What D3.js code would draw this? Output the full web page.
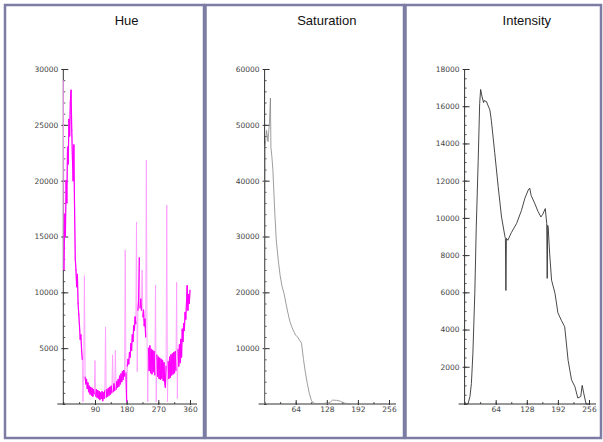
<!DOCTYPE html>
<html>
<head>
<meta charset="utf-8">
<script src="https://cdn.jsdelivr.net/npm/d3@7"></script>
<style>
body { margin: 0; background: #fff; }
</style>
</head>
<body>
<div id="chart"></div>
<script>
// set the dimensions of the picture
var W = 603, H = 442;

// Hue histogram, one count every 2 degrees from 0 to 360
var hueStep = 2;
var hueCounts = [
  29000, 12000, 17000, 15000, 20000, 18000, 23000, 21500, 25500, 24000,
  27000, 28100, 24500, 22000, 20000, 23200, 17500, 13000, 12000, 10500,
  11600, 9000, 8000, 7000, 5800, 6200, 4800, 4000, 200, 3000,
  11500, 2400, 1800, 2200, 1400, 1900, 1100, 1600, 900, 1500,
  800, 1400, 700, 1300, 900, 3900, 700, 1300, 600, 1200,
  500, 1100, 400, 1000, 500, 1100, 300, 1000, 500, 1200,
  6900, 600, 1300, 700, 1400, 800, 1500, 900, 1600, 1000,
  4400, 1100, 1800, 1200, 4800, 1300, 2000, 1500, 2200, 1600,
  2500, 1800, 2700, 2000, 2900, 2200, 3000, 2500, 13800, 2800,
  200, 3400, 4000, 3600, 4600, 4200, 5400, 4800, 6200, 5600,
  7000, 6600, 7800, 7200, 16300, 2900, 8400, 9200, 13100, 8600,
  9400, 8400, 12000, 7800, 8400, 7000, 7600, 6000, 21850, 5400,
  200, 5000, 3000, 5200, 2800, 4900, 2700, 4800, 2900, 4700,
  2600, 10650, 200, 4400, 2500, 4200, 2300, 4100, 2200, 4000,
  2300, 3900, 2100, 3700, 2000, 1500, 3400, 17800, 200, 3800,
  2300, 4200, 2400, 4400, 2600, 4500, 2700, 4600, 2800, 4700,
  3000, 10900, 500, 4900, 3400, 5300, 3700, 5800, 4200, 6700,
  5600, 7200, 6600, 8200, 7600, 9000, 10600, 8400, 9800, 9000,
  10200
];
var hueBins = hueCounts.map(function(d, i) { return i * hueStep; });

// Saturation histogram
var satBins = [0, 1, 4, 7, 10, 12, 13, 15, 17, 21, 24, 28, 32, 36, 40, 44, 48, 52,
  56, 60, 64, 68, 72, 76, 80, 84, 88, 92, 96, 100, 104, 110, 120, 130, 136, 140, 148, 156,
  162, 170, 178];
var satCounts = [0, 46000, 49000, 47000, 50500, 54800, 46000, 44300, 42000, 34200, 29400, 25800, 23000, 21000, 19800, 18000, 16300, 14800,
  13800, 13000, 12300, 12000, 11400, 10900, 8000, 5600, 3600, 1900, 700, 200, 100, 50, 100, 150, 400, 700, 650, 500,
  200, 80, 0];

// Intensity histogram
var intBins = [0, 7, 11, 14, 17, 21, 24, 28, 31, 33, 36, 39, 40, 45, 48, 52, 55, 62, 69, 76,
  83, 84, 85, 86, 89, 96, 107, 117, 124, 131, 134, 137, 144, 151, 157, 161, 166, 169, 170, 171,
  172, 175, 179, 186, 192, 199, 206, 213, 220, 227, 233, 239, 242, 245, 250, 256];
var intCounts = [0, 0, 400, 1100, 2700, 5950, 9500, 13100, 16150, 16900, 16500, 16200, 16300, 16250, 16050, 15800, 15250, 13500, 11700, 10050,
  9000, 8900, 6100, 8900, 8800, 9200, 9700, 10400, 11050, 11500, 11600, 11200, 10800, 10350, 10050, 10200, 10500, 9700, 6750, 9600,
  9500, 8100, 6650, 5950, 4900, 4500, 4150, 2350, 1300, 930, 320, 400, 1000, 600, 0, 0];

// tick labels
var hueTicks = [90, 180, 270, 360];
var byteTicks = [64, 128, 192, 256];

var panels = [
  {title: "Hue", left: 5, right: 204, px0: 63.3, px1: 190,
   bins: hueBins, counts: hueCounts, xMax: 360, xTicks: hueTicks, xMinorStep: 45,
   yMax: 30000, yStep: 5000, yMinorStep: 1000, color: "#ff00ff", spike: "#ff9cff", width: 1.2},
  {title: "Saturation", left: 205.5, right: 404, px0: 264.6, px1: 389,
   bins: satBins, counts: satCounts, xMax: 256, xTicks: byteTicks, xMinorStep: 32,
   yMax: 60000, yStep: 10000, yMinorStep: 2000, color: "#858585", width: 0.8},
  {title: "Intensity", left: 405.5, right: 601, px0: 464.6, px1: 589,
   bins: intBins, counts: intCounts, xMax: 256, xTicks: byteTicks, xMinorStep: 32,
   yMax: 18000, yStep: 2000, yMinorStep: 500, color: "#333333", width: 0.9}
];

var plotTop = 69, plotBottom = 404;

var svg = d3.select("#chart")
  .append("svg")
    .attr("width", W)
    .attr("height", H);

panels.forEach(function(p) {

  // panel frame
  svg.append("rect")
    .attr("x", p.left).attr("y", 5)
    .attr("width", p.right - p.left).attr("height", 433)
    .attr("fill", "#fff")
    .attr("stroke", "#7c7ca4")
    .attr("stroke-width", 2.5);

  var x = d3.scaleLinear().domain([0, p.xMax]).range([p.px0, p.px1]);
  var y = d3.scaleLinear().domain([0, p.yMax]).range([plotBottom, plotTop]);

  // title
  svg.append("text")
    .attr("x", (p.px0 + p.px1) / 2)
    .attr("y", 25)
    .attr("text-anchor", "middle")
    .style("font-family", "'Liberation Sans', Arial, sans-serif")
    .style("font-size", "13px")
    .style("fill", "#111")
    .text(p.title);

  // minor ticks
  var yMinor = d3.range(0, p.yMax + 1, p.yMinorStep);
  var xMinor = d3.range(0, p.xMax + 1, p.xMinorStep);
  var yMajor = d3.range(p.yStep, p.yMax + 1, p.yStep);

  svg.append("g")
    .attr("transform", "translate(" + x(0) + ",0)")
    .call(d3.axisLeft(y).tickValues(yMinor).tickSize(-2).tickFormat("").tickSizeOuter(0))
    .call(function(g) { g.select(".domain").remove(); })
    .selectAll("line").attr("stroke", "#555");

  svg.append("g")
    .attr("transform", "translate(0," + plotBottom + ")")
    .call(d3.axisBottom(x).tickValues(xMinor).tickSize(-2).tickFormat("").tickSizeOuter(0))
    .call(function(g) { g.select(".domain").remove(); })
    .selectAll("line").attr("stroke", "#555");

  // Y axis
  var ya = svg.append("g")
    .attr("transform", "translate(" + x(0) + ",0)")
    .call(d3.axisLeft(y).tickValues(yMajor).tickFormat(d3.format("d"))
      .tickSize(-5).tickPadding(5).tickSizeOuter(0));
  ya.select(".domain").remove();
  ya.selectAll("line").attr("stroke", "#333").attr("x1", -2);
  ya.selectAll("text")
    .style("font-family", "'DejaVu Sans', Verdana, sans-serif")
    .style("font-size", "7.5px")
    .style("fill", "#444");

  // X axis
  var xa = svg.append("g")
    .attr("transform", "translate(0," + plotBottom + ")")
    .call(d3.axisBottom(x).tickValues(p.xTicks).tickSize(-4).tickPadding(3).tickSizeOuter(0));
  xa.select(".domain").remove();
  xa.selectAll("line").attr("stroke", "#333").attr("y1", 1);
  xa.selectAll("text")
    .style("font-family", "'DejaVu Sans', Verdana, sans-serif")
    .style("font-size", "7.5px")
    .style("fill", "#444");

  // axis lines
  svg.append("line")
    .attr("x1", x(0)).attr("x2", x(0))
    .attr("y1", plotTop).attr("y2", plotBottom + 1)
    .attr("stroke", "#333");
  svg.append("line")
    .attr("x1", x(0) - 6).attr("x2", x(p.xMax) + 7)
    .attr("y1", plotBottom).attr("y2", plotBottom)
    .attr("stroke", "#333");

  // histogram line
  var pts = p.bins.map(function(b, i) { return [b, p.counts[i]]; });
  var line = d3.line()
    .x(function(d) { return x(d[0]); })
    .y(function(d) { return y(d[1]); });

  if (p.spike) {
    // thin light pass for the whole curve, so single-bin spikes look pale
    svg.append("path")
      .datum(pts)
      .attr("fill", "none")
      .attr("stroke", p.spike)
      .attr("stroke-width", 0.9)
      .attr("d", line);
    // the dense body of the curve in full colour
    var segs = d3.pairs(pts).filter(function(s) {
      var dv = Math.abs(s[1][1] - s[0][1]);
      return dv <= 2600 || dv / Math.max(s[0][1], s[1][1]) < 0.3;
    });
    svg.append("g").selectAll("line")
      .data(segs)
      .enter()
      .append("line")
        .attr("x1", function(s) { return x(s[0][0]); })
        .attr("y1", function(s) { return y(s[0][1]); })
        .attr("x2", function(s) { return x(s[1][0]); })
        .attr("y2", function(s) { return y(s[1][1]); })
        .attr("stroke", p.color)
        .attr("stroke-width", p.width)
        .attr("stroke-linecap", "round");
  } else {
    svg.append("path")
      .datum(pts)
      .attr("fill", "none")
      .attr("stroke", p.color)
      .attr("stroke-width", p.width)
      .attr("d", line);
  }
});
</script>
</body>
</html>
